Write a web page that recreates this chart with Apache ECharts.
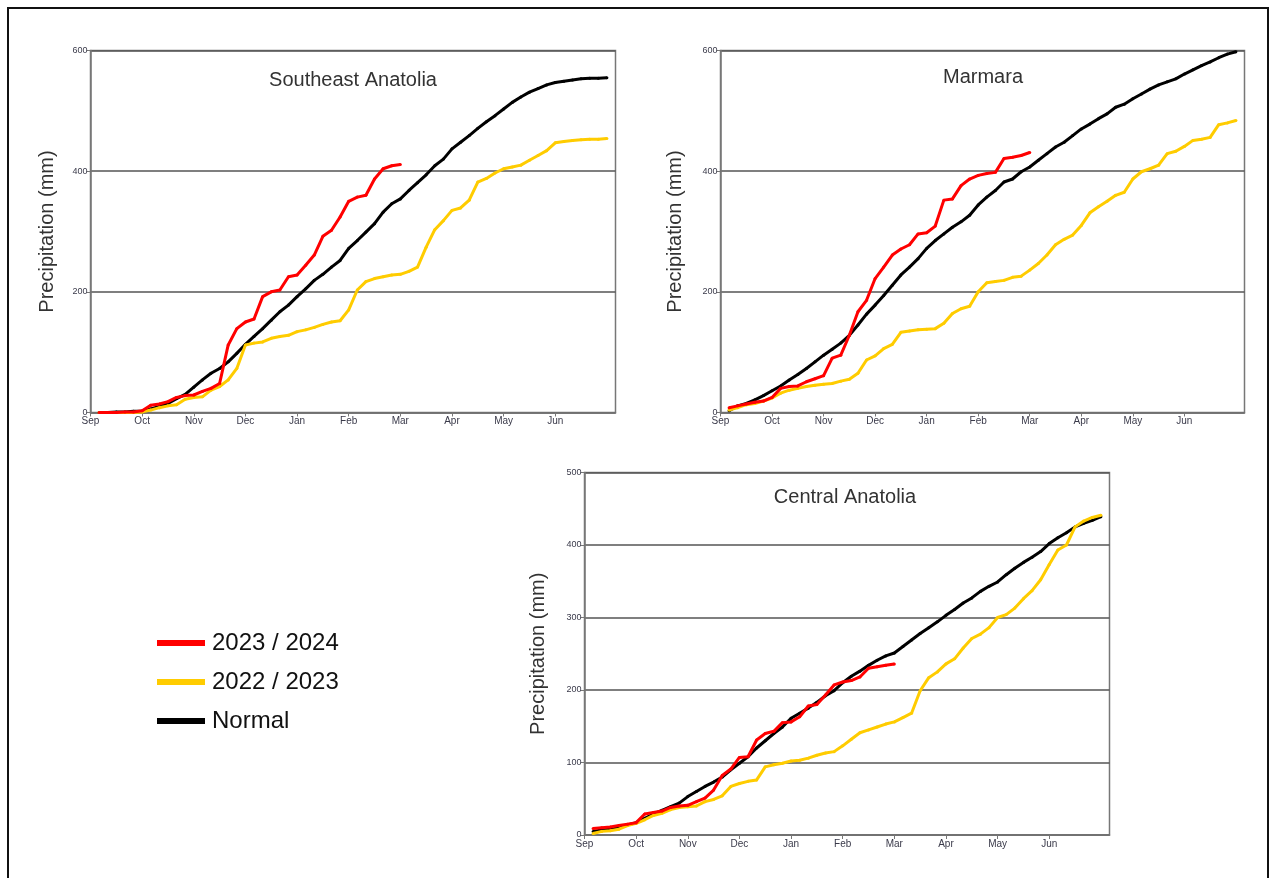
<!DOCTYPE html>
<html>
<head>
<meta charset="utf-8">
<script src="https://cdn.jsdelivr.net/npm/echarts@6/dist/echarts.min.js"></script>
<style>
html,body{margin:0;padding:0;background:#fff;}
#c{width:1275px;height:878px;}
</style>
</head>
<body>
<div id="c"></div>
<script>
// Month tick labels (each month = 6 pentads)
const months = ['Sep','Oct','Nov','Dec','Jan','Feb','Mar','Apr','May','Jun'];
const seriesNames = ['2023 / 2024', '2022 / 2023', 'Normal'];
const regionTitles = ['Southeast Anatolia', 'Marmara', 'Central Anatolia'];

// Southeast Anatolia (cumulative mm, pentads 1..n)
const seNormal = [0,0,1,1,2,2,6,10,15,23,30,42,54,65,73,84,98,113,126,139,153,167,178,192,205,219,229,241,252,272,285,299,313,332,346,354,368,381,394,409,420,437,448,459,471,482,492,503,514,523,531,537,543,547,549,551,553,554,554,555];
const se2223 = [0,0,0,0,0,1,4,8,11,13,22,25,26,37,43,54,73,112,115,117,123,126,128,134,137,141,146,150,152,170,203,217,222,225,228,229,234,241,274,303,318,335,339,352,382,388,397,404,407,410,418,426,434,447,449,451,452,453,453,454];
const se2324 = [0,0,0,1,1,3,12,14,18,25,28,29,35,40,48,112,139,150,155,192,200,203,225,228,244,261,292,302,324,350,357,360,387,404,409,411];

// Marmara
const maNormal = [3,11,15,21,28,36,44,54,63,73,84,95,105,115,128,145,163,178,194,211,228,241,255,272,285,296,307,316,327,344,357,368,382,387,399,407,418,429,440,448,459,470,478,487,495,506,511,520,528,536,543,548,553,561,568,575,581,588,594,598];
const ma2223 = [4,8,13,15,19,24,32,37,40,43,45,47,48,52,55,65,87,94,106,113,133,135,137,138,139,148,164,172,176,200,215,217,219,224,226,236,247,261,278,287,294,310,331,341,350,360,365,387,399,404,410,429,433,441,451,453,456,477,480,484];
const ma2324 = [8,11,14,17,19,25,40,43,44,51,56,61,90,95,128,167,186,222,241,261,271,278,296,298,309,352,354,376,387,393,396,398,421,423,426,431];

// Central Anatolia
const caNormal = [5,7,9,11,14,17,23,29,34,39,44,53,60,67,73,80,90,99,108,120,130,140,149,161,168,175,183,192,199,210,219,226,234,241,247,251,260,269,278,286,294,303,311,320,327,336,343,349,359,368,376,383,391,402,410,417,425,430,434,439];
const ca2223 = [2,5,6,8,13,16,21,27,30,35,38,39,40,46,49,54,67,71,74,76,94,97,99,102,103,106,110,113,115,123,132,141,145,149,153,156,162,168,199,217,225,236,243,258,271,277,286,300,304,313,326,337,352,373,393,400,425,433,438,441];
const ca2324 = [9,10,11,13,15,17,29,31,33,38,40,41,46,51,62,82,91,107,108,131,140,143,155,156,163,178,180,193,207,211,213,218,230,232,234,236];

const yMax = [600, 600, 500];
const yInterval = [200, 200, 100];

const grids = [
  {left: 90.5, top: 50.5, width: 525, height: 362},
  {left: 720.5, top: 50.5, width: 524, height: 362},
  {left: 584.5, top: 472.5, width: 525, height: 362.5}
];
const titlePos = [[348, 65], [978, 62], [840, 482]];
const nameGaps = [33, 35, 36];

const data = [
  [se2324, se2223, seNormal],
  [ma2324, ma2223, maNormal],
  [ca2324, ca2223, caNormal]
];
const colors = ['#FF0000', '#FFCC00', '#000000'];

const tickVals = months.map((m, i) => i * 6);
const labelFont = "'Liberation Sans Narrow','Arial Narrow','Liberation Sans',Arial,sans-serif";
const mainFont = "'Liberation Sans',Arial,sans-serif";

const xAxes = [], yAxes = [], series = [], titles = [];
grids.forEach((g, k) => {
  xAxes.push({
    type: 'value', gridIndex: k, min: 0, max: 61,
    axisLine: {show: true, lineStyle: {color: '#777', width: 1.5}},
    axisTick: {show: true, customValues: tickVals, length: 4, lineStyle: {color: '#777'}},
    axisLabel: {show: true, customValues: tickVals, margin: 4,
      formatter: v => months[Math.round(v / 6)] || '',
      fontFamily: labelFont, fontSize: 10, color: '#3a3a4a'},
    splitLine: {show: false}
  });
  yAxes.push({
    type: 'value', gridIndex: k, min: 0, max: yMax[k], interval: yInterval[k],
    name: 'Precipitation (mm)', nameLocation: 'middle', nameGap: nameGaps[k],
    nameTextStyle: {fontFamily: mainFont, fontSize: 20, color: '#333'},
    axisLine: {show: true, lineStyle: {color: '#777', width: 1.5}},
    axisTick: {show: true, length: 4, lineStyle: {color: '#777'}},
    axisLabel: {show: true, margin: 3, fontFamily: labelFont, fontSize: 9, color: '#3a3a4a'},
    splitLine: {show: true, lineStyle: {color: '#555', width: 1.5}}
  });
  titles.push({
    text: regionTitles[k], left: titlePos[k][0], top: titlePos[k][1], textAlign: 'center',
    textStyle: {fontFamily: mainFont, fontSize: 20, fontWeight: 'normal', color: '#333'}
  });
  // draw order: Normal, 2022/2023, 2023/2024 (red on top)
  [2, 1, 0].forEach(s => {
    series.push({
      type: 'line', name: seriesNames[s], xAxisIndex: k, yAxisIndex: k,
      data: data[k][s].map((v, i) => [i + 1, v]),
      symbol: 'circle', symbolSize: 3, showSymbol: true,
      lineStyle: {color: colors[s], width: 3},
      itemStyle: {color: colors[s]},
      animation: false, z: 3 + (2 - s)
    });
  });
});

const chart = echarts.init(document.getElementById('c'), null, {renderer: 'canvas'});
chart.setOption({
  animation: false,
  backgroundColor: '#fff',
  title: titles,
  grid: grids.map(g => Object.assign({show: true, borderColor: '#777', borderWidth: 1.5, containLabel: false}, g)),
  xAxis: xAxes,
  yAxis: yAxes,
  legend: {
    data: seriesNames.map(n => ({name: n, icon: 'rect'})),
    orient: 'vertical', left: 152, top: 626,
    itemWidth: 48, itemHeight: 6, itemGap: 15,
    textStyle: {fontFamily: mainFont, fontSize: 24, color: '#111', padding: [0, 0, 0, 2]}
  },
  series: series,
  graphic: [{
    type: 'rect', shape: {x: 8, y: 8, width: 1260, height: 900},
    style: {fill: 'none', stroke: '#111', lineWidth: 2}, silent: true
  }]
});
</script>
</body>
</html>
